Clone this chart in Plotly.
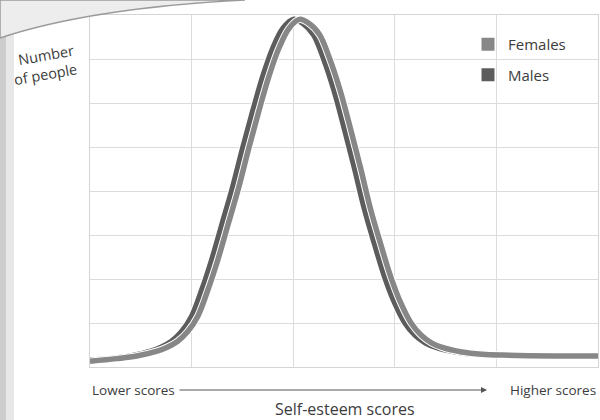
import plotly.graph_objects as go

# Self-esteem score position (arbitrary units, low -> high) and number of people
males_x = [0, 0.2, 0.4, 0.6, 0.7, 0.8, 0.9, 1.0, 1.1, 1.2, 1.3, 1.4, 1.5, 1.6, 1.7, 1.8,
           1.9, 2.0, 2.1, 2.2, 2.3, 2.4, 2.5, 2.6, 2.7, 2.8, 2.9, 3.0, 3.1, 3.2, 3.3, 3.4,
           3.6, 3.8, 4.0, 4.5, 5.0]
males_y = [0.16, 0.19, 0.25, 0.36, 0.45, 0.58, 0.80, 1.15, 1.75, 2.45, 3.25, 4.05, 4.95,
           5.80, 6.60, 7.25, 7.70, 7.90, 7.80, 7.55, 7.00, 6.30, 5.45, 4.55, 3.60, 2.80,
           2.05, 1.45, 1.00, 0.72, 0.55, 0.45, 0.34, 0.29, 0.27, 0.25, 0.25]

females_x = [0, 0.26, 0.46, 0.66, 0.76, 0.86, 0.96, 1.06, 1.16, 1.26, 1.36, 1.46, 1.56,
             1.66, 1.76, 1.86, 1.96, 2.06, 2.16, 2.26, 2.36, 2.46, 2.56, 2.66, 2.76, 2.86,
             2.96, 3.06, 3.16, 3.26, 3.36, 3.46, 3.66, 3.86, 4.06, 4.56, 5.0]
females_y = [0.13, 0.19, 0.25, 0.36, 0.45, 0.58, 0.80, 1.15, 1.75, 2.45, 3.25, 4.05, 4.95,
             5.80, 6.60, 7.25, 7.70, 7.90, 7.80, 7.55, 7.00, 6.30, 5.45, 4.55, 3.60, 2.80,
             2.05, 1.45, 1.00, 0.72, 0.55, 0.45, 0.34, 0.29, 0.27, 0.25, 0.25]

series_names = ["Females", "Males"]
series_colors = {"Females": "#878787", "Males": "#5c5c5c"}

FONT = "Open Sans"
TXT = "#3c3c3c"

fig = go.Figure()

def add_curve(xs, ys, name):
    fig.add_trace(go.Scatter(x=xs, y=ys, mode="lines", showlegend=False, hoverinfo="skip",
                             line=dict(color="white", width=7.5, shape="spline", smoothing=1.0)))
    fig.add_trace(go.Scatter(x=xs, y=ys, mode="lines", name=name, showlegend=False,
                             line=dict(color=series_colors[name], width=5.5, shape="spline", smoothing=1.0)))

add_curve(males_x, males_y, "Males")
add_curve(females_x, females_y, "Females")

# legend entries (square swatches)
for name in series_names:
    fig.add_trace(go.Scatter(x=[None], y=[None], mode="markers", name=name,
                             legendgroup=name,
                             marker=dict(symbol="square", size=13, color=series_colors[name])))

def px(x):
    return (x - 90) / 508.0

def py(y):
    return (367 - y) / 352.0

fig.update_layout(
    width=600, height=420,
    margin=dict(l=90, r=2, t=15, b=53),
    paper_bgcolor="white", plot_bgcolor="white",
    font=dict(family=FONT, color=TXT),
    xaxis=dict(range=[0, 5], dtick=1, showticklabels=False, ticks="",
               showgrid=True, gridcolor="#dcdcdc", gridwidth=1, zeroline=False,
               showline=True, linecolor="#d4d4d4", linewidth=1, mirror=True),
    yaxis=dict(range=[0, 8], dtick=1, showticklabels=False, ticks="",
               showgrid=True, gridcolor="#dcdcdc", gridwidth=1, zeroline=False,
               showline=True, linecolor="#d4d4d4", linewidth=1, mirror=True),
    legend=dict(x=px(468), y=py(28), xanchor="left", yanchor="top",
                bgcolor="rgba(0,0,0,0)", font=dict(size=15, color=TXT, family=FONT),
                tracegroupgap=8, traceorder="grouped", itemsizing="trace"),
    showlegend=True,
)

annotations = [
    dict(text="Number<br>of people", x=px(44), y=py(65), xref="paper", yref="paper",
         xanchor="center", yanchor="middle",
         showarrow=False, textangle=-10, align="right",
         font=dict(size=14.5, color=TXT, family=FONT)),
    dict(text="Lower scores", x=0, y=py(390), xref="paper", yref="paper",
         xanchor="left", yanchor="middle", showarrow=False,
         font=dict(size=13.5, color=TXT, family=FONT)),
    dict(text="Higher scores", x=1, y=py(390), xref="paper", yref="paper",
         xanchor="right", yanchor="middle", showarrow=False,
         font=dict(size=13.5, color=TXT, family=FONT)),
    dict(text="Self-esteem scores", x=px(345), y=py(409), xref="paper", yref="paper",
         xanchor="center", yanchor="middle", showarrow=False,
         font=dict(size=16, color=TXT, family=FONT)),
    dict(text="", x=px(487), y=py(390), xref="paper", yref="paper",
         ax=178 - 487, ay=0, showarrow=True, arrowhead=2, arrowsize=1.2,
         arrowwidth=1, arrowcolor="#555555"),
]
fig.update_layout(annotations=annotations)

shapes = [
    # scanned page edge on the left
    dict(type="rect", xref="paper", yref="paper", x0=px(0), x1=px(6), y0=py(420), y1=py(0),
         fillcolor="#cdcdcd", line=dict(width=0), layer="below"),
    dict(type="rect", xref="paper", yref="paper", x0=px(6), x1=px(14), y0=py(420), y1=py(0),
         fillcolor="#e8e8e8", line=dict(width=0), layer="below"),
    # page curl at the top left
    dict(type="path", xref="paper", yref="paper",
         path=f"M {px(0)},{py(0)} L {px(0)},{py(38)} Q {px(90)},{py(8)} {px(245)},{py(0)} Z",
         fillcolor="#ededed", line=dict(color="#9a9a9a", width=1.5), layer="above"),
]
fig.update_layout(shapes=shapes)

fig.write_html("out.html", config={"displayModeBar": False})

# remove the default page margin so the figure sits at the window's top-left corner
with open("out.html", "r", encoding="utf-8") as f:
    html = f.read()
html = html.replace("<head>", "<head><style>html,body{margin:0;padding:0;overflow:hidden;}</style>", 1)
with open("out.html", "w", encoding="utf-8") as f:
    f.write(html)
